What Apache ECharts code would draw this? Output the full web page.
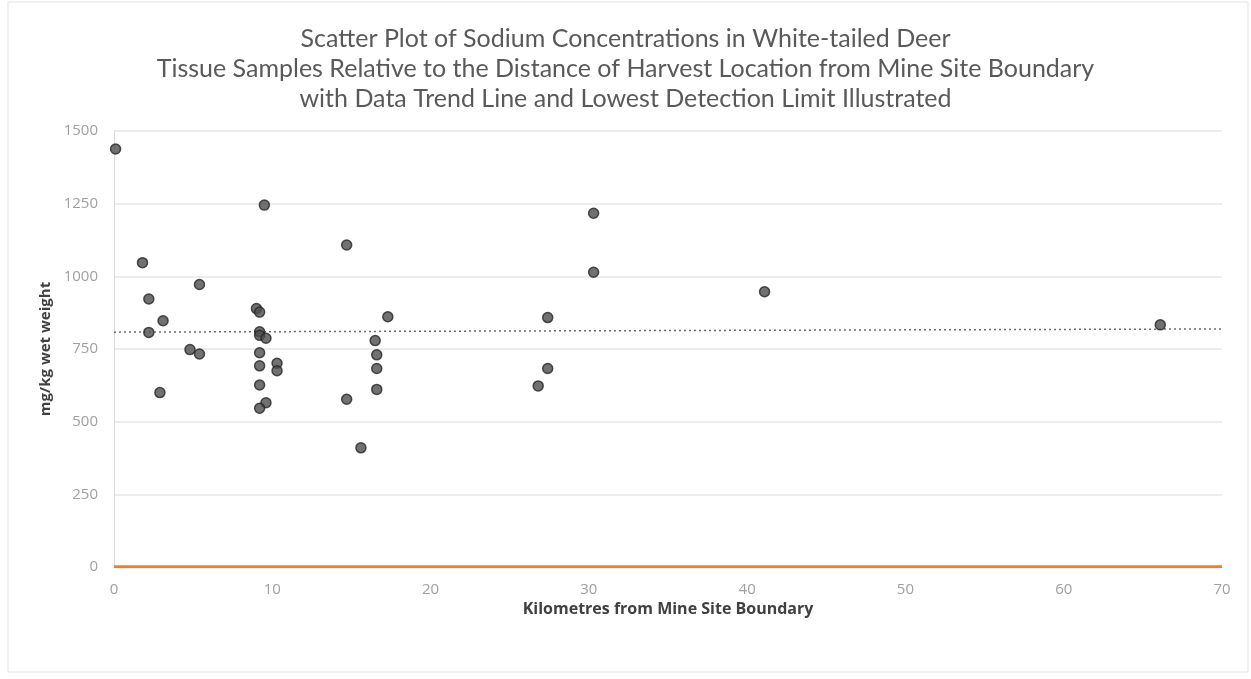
<!DOCTYPE html>
<html>
<head>
<meta charset="utf-8">
<script src="https://cdn.jsdelivr.net/npm/echarts@6/dist/echarts.min.js"></script>
<style>
  html, body { margin: 0; padding: 0; background: #fff; }
  #chart { width: 1251px; height: 679px; }
</style>
</head>
<body>
<div id="chart"></div>
<script>
// Distance of harvest location from mine site boundary (km)
const distanceKm = [
  0.1, 1.8, 2.2, 2.2, 3.1, 2.9, 4.8, 5.4, 5.4,
  9.5, 9.0, 9.2, 9.2, 9.2, 9.6, 9.2, 9.2, 10.3, 10.3, 9.2, 9.6, 9.2,
  14.7, 17.3, 16.5, 16.6, 16.6, 16.6, 14.7, 15.6,
  30.3, 30.3, 27.4, 27.4, 26.8,
  41.1, 66.1
];
// Sodium concentration (mg/kg wet weight)
const sodium = [
  1438, 1047, 922, 807, 847, 600, 748, 972, 733,
  1245, 889, 877, 809, 797, 787, 737, 692, 701, 675, 626, 565, 546,
  1108, 861, 779, 730, 683, 611, 577, 410,
  1217, 1014, 858, 683, 623,
  947, 833
];
// Trend line end points [km, mg/kg]
const trendX = [0, 70];
const trendY = [808, 819];
// Lowest detection limit (mg/kg)
const detectionLimit = 1;
const limitX = [0, 70];

const titleLines = [
  'Scatter Plot of Sodium Concentrations in White-tailed Deer',
  'Tissue Samples Relative to the Distance of Harvest Location from Mine Site Boundary',
  'with Data Trend Line and Lowest Detection Limit Illustrated'
];

const points = distanceKm.map((x, i) => [x, sodium[i]]);
const trend = trendX.map((x, i) => [x, trendY[i]]);
const limit = limitX.map(x => [x, detectionLimit]);

const chart = echarts.init(document.getElementById('chart'));
chart.setOption({
  backgroundColor: '#ffffff',
  animation: false,
  title: {
    text: titleLines.join('\n'),
    left: 'center',
    top: 19,
    textStyle: {
      fontFamily: 'Lato',
      fontSize: 25,
      fontWeight: 'normal',
      color: '#595959',
      lineHeight: 30
    }
  },
  graphic: [{
    type: 'rect',
    shape: { x: 8, y: 2, width: 1240, height: 670 },
    style: { fill: 'none', stroke: '#e3e3e3', lineWidth: 1 },
    silent: true,
    z: -1
  }],
  grid: { left: 114, right: 29, top: 131, bottom: 112 },
  xAxis: {
    type: 'value',
    min: 0, max: 70, interval: 10,
    name: 'Kilometres from Mine Site Boundary',
    nameLocation: 'middle',
    nameGap: 26,
    nameTextStyle: { fontFamily: 'Open Sans', fontSize: 16, fontWeight: 'bold', color: '#404040' },
    axisLine: { show: true, lineStyle: { color: '#d9d9d9' } },
    axisTick: { show: false },
    splitLine: { show: false },
    axisLabel: { fontFamily: 'Open Sans', fontSize: 15, color: '#a0a0a0', margin: 15 }
  },
  yAxis: {
    type: 'value',
    min: 0, max: 1500, interval: 250,
    name: 'mg/kg wet weight',
    nameLocation: 'middle',
    nameGap: 56,
    nameTextStyle: { fontFamily: 'Open Sans', fontSize: 15, fontWeight: 'bold', color: '#404040' },
    axisLine: { show: true, lineStyle: { color: '#d9d9d9' } },
    axisTick: { show: false },
    splitLine: { show: true, lineStyle: { color: '#e6e6e6', width: 1.5 } },
    axisLabel: {
      fontFamily: 'Open Sans', fontSize: 15, color: '#a0a0a0', margin: 16,
      formatter: v => String(v)
    }
  },
  series: [
    {
      name: 'Lowest Detection Limit',
      type: 'line',
      data: limit,
      symbol: 'none',
      lineStyle: { color: '#ED7D31', width: 3 },
      z: 3
    },
    {
      name: 'Trend',
      type: 'line',
      data: trend,
      symbol: 'none',
      lineStyle: { color: '#6b6b6b', width: 1.5, type: [2, 3] },
      z: 2
    },
    {
      name: 'Sodium',
      type: 'scatter',
      data: points,
      symbol: 'circle',
      symbolSize: 10,
      itemStyle: { color: '#4d4d4d', borderColor: '#262626', borderWidth: 1.5 },
      z: 4
    }
  ]
});
</script>
</body>
</html>
